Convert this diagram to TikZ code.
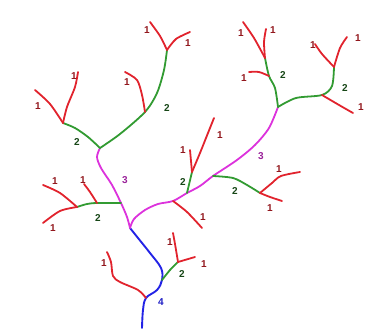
\documentclass[tikz,border=0pt]{standalone}
\usepackage{fontspec}
\setmainfont{Liberation Sans}
\usepackage{tikz}
\definecolor{sRed}{RGB}{225,35,45}
\definecolor{sGreen}{RGB}{50,155,50}
\definecolor{sPink}{RGB}{220,50,220}
\definecolor{sBlue}{RGB}{35,35,230}

\begin{document}
\begin{tikzpicture}[x=1pt, y=-1pt, line cap=round, line join=round,
  o1/.style={draw=sRed, line width=1.8pt},
  o2/.style={draw=sGreen, line width=1.8pt},
  o3/.style={draw=sPink, line width=1.8pt},
  o4/.style={draw=sBlue, line width=1.9pt},
  n1/.style={font=\bfseries, text=sRed!65!black, inner sep=0pt},
  n2/.style={font=\bfseries, text=sGreen!45!black, inner sep=0pt},
  n3/.style={font=\bfseries, text=sPink!70!black, inner sep=0pt},
  n4/.style={font=\bfseries, text=sBlue!85!black, inner sep=0pt}]
  \useasboundingbox (0,0) rectangle (386,336);

  % junctions
  \coordinate (t0) at (142,328);
  \coordinate (j4a) at (146,298);
  \coordinate (j4b) at (162,280);
  \coordinate (j3) at (130,228);
  \coordinate (j3a) at (121,203);
  \coordinate (j3b) at (173,201);
  \coordinate (j3c) at (187,193);
  \coordinate (j3d) at (213,176);
  \coordinate (j2l) at (100,148);
  \coordinate (j2r) at (278,107);
  \coordinate (ja) at (63,123);
  \coordinate (jb) at (145,112);
  \coordinate (jc) at (167,50);
  \coordinate (jd) at (269,76);
  \coordinate (je) at (265,58);
  \coordinate (jf) at (322,95);
  \coordinate (jg) at (334,67);
  \coordinate (jh) at (192,172);
  \coordinate (ji) at (260,193);
  \coordinate (jj) at (97,203);
  \coordinate (jk) at (77,207);
  \coordinate (jl) at (178,262);

  % order 4
  \draw[o4] plot[smooth, tension=0.6] coordinates {(t0) (143,310) (j4a) (157,290) (j4b) (161,268) (150,253) (138,238) (j3)};

  % order 3
  \draw[o3] plot[smooth] coordinates {(j3) (127,217) (j3a) (112,185) (101,168) (97,157) (j2l)};
  \draw[o3] plot[smooth] coordinates {(j3) (134,219) (145,210) (158,204) (j3b) (j3c) (200,186) (j3d) (237,160) (255,145) (269,128) (j2r)};

  % order 2
  \draw[o2] plot[smooth] coordinates {(j2l) (88,137) (75,128) (ja)};
  \draw[o2] plot[smooth] coordinates {(j2l) (120,134) (jb) (157,93) (164,70) (jc)};
  \draw[o2] plot[smooth] coordinates {(j2r) (275,88) (jd) (je)};
  \draw[o2] plot[smooth] coordinates {(j2r) (296,98) (jf) (332,86) (jg)};
  \draw[o2] (j3c) -- (jh);
  \draw[o2] plot[smooth] coordinates {(j3d) (233,178) (247,185) (ji)};
  \draw[o2] plot[smooth] coordinates {(j3a) (jj) (87,204) (jk)};
  \draw[o2] plot[smooth] coordinates {(j4b) (170,270) (jl)};

  % order 1
  \draw[o1] plot[smooth] coordinates {(ja) (50,104) (35,90)};
  \draw[o1] plot[smooth] coordinates {(ja) (67,107) (75,87) (78,72)};
  \draw[o1] plot[smooth] coordinates {(jb) (142,95) (137,80) (125,72)};
  \draw[o1] plot[smooth] coordinates {(jc) (160,36) (150,22)};
  \draw[o1] plot[smooth] coordinates {(jc) (176,39) (190,32)};
  \draw[o1] plot[smooth] coordinates {(jd) (259,72) (249,72)};
  \draw[o1] plot[smooth] coordinates {(je) (254,38) (243,22)};
  \draw[o1] plot[smooth] coordinates {(je) (264,42) (266,29)};
  \draw[o1] plot[smooth] coordinates {(jg) (322,54) (315,44)};
  \draw[o1] plot[smooth] coordinates {(jg) (340,48) (347,37)};
  \draw[o1] plot[smooth] coordinates {(jf) (339,105) (353,113)};
  \draw[o1] plot[smooth] coordinates {(j3b) (187,212) (202,228)};
  \draw[o1] (jh) -- (190,150);
  \draw[o1] plot[smooth] coordinates {(jh) (200,153) (208,133) (214,118)};
  \draw[o1] plot[smooth] coordinates {(ji) (272,183) (281,176) (300,172)};
  \draw[o1] plot[smooth] coordinates {(ji) (270,197) (282,201)};
  \draw[o1] plot[smooth] coordinates {(jj) (90,192) (84,184)};
  \draw[o1] plot[smooth] coordinates {(jk) (60,193) (43,185)};
  \draw[o1] plot[smooth] coordinates {(jk) (60,211) (43,223)};
  \draw[o1] plot[smooth] coordinates {(j4a) (138,290) (120,282) (113,276) (111,262) (107,252)};
  \draw[o1] plot[smooth] coordinates {(jl) (175,244) (173,233)};
  \draw[o1] (jl) -- (195,257);

  % labels
  \node[n1] (a1) at (38,106) {1};
  \node[n1] (a2) at (74,76) {1};
  \node[n1] (a3) at (127,82) {1};
  \node[n1] (a4) at (147,30) {1};
  \node[n1] (a5) at (188,43) {1};
  \node[n2] (a6) at (77,142) {2};
  \node[n2] (a7) at (167,108) {2};
  \node[n3] (a8) at (125,180) {3};
  \node[n3] (a9) at (261,156) {3};
  \node[n1] (b1) at (241,33) {1};
  \node[n1] (b2) at (273,30) {1};
  \node[n1] (b3) at (244,78) {1};
  \node[n2] (b4) at (283,75) {2};
  \node[n1] (b5) at (313,45) {1};
  \node[n1] (b6) at (358,38) {1};
  \node[n1] (b7) at (361,107) {1};
  \node[n2] (b8) at (345,88) {2};
  \node[n1] (c1) at (203,217) {1};
  \node[n2] (c2) at (183,182) {2};
  \node[n1] (c3) at (183,150) {1};
  \node[n1] (c4) at (220,135) {1};
  \node[n2] (c5) at (235,191) {2};
  \node[n1] (c6) at (279,169) {1};
  \node[n1] (c7) at (270,208) {1};
  \node[n2] (d1) at (98,218) {2};
  \node[n1] (d2) at (83,180) {1};
  \node[n1] (d3) at (55,181) {1};
  \node[n1] (d4) at (53,228) {1};
  \node[n1] (e1) at (104,263) {1};
  \node[n1] (e2) at (170,242) {1};
  \node[n1] (e3) at (204,264) {1};
  \node[n2] (e4) at (182,274) {2};
  \node[n4] (e5) at (161,302) {4};
\end{tikzpicture}
\end{document}
